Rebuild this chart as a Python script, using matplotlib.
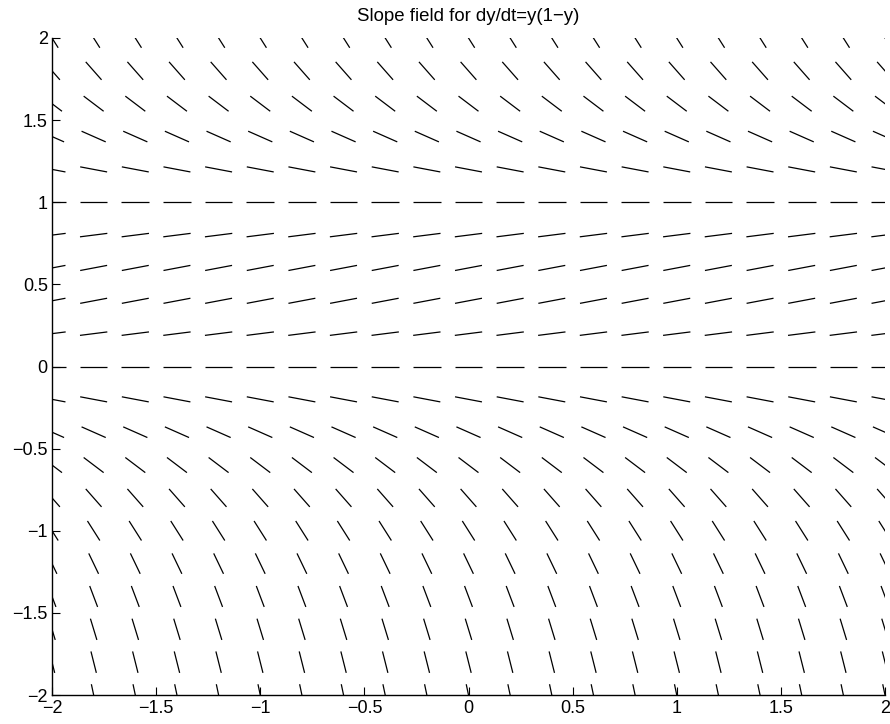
import numpy as np
import matplotlib
matplotlib.use("Agg")
import matplotlib.pyplot as plt
from matplotlib.collections import LineCollection

# Grid of sample points for the slope field
t_values = np.round(np.arange(-2.0, 2.0001, 0.2), 10)
y_values = np.round(np.arange(-2.0, 2.0001, 0.2), 10)
x_ticks = [-2, -1.5, -1, -0.5, 0, 0.5, 1, 1.5, 2]
y_ticks = [-2, -1.5, -1, -0.5, 0, 0.5, 1, 1.5, 2]
x_tick_labels = ["\u22122", "\u22121.5", "\u22121", "\u22120.5", "0", "0.5", "1", "1.5", "2"]
y_tick_labels = ["\u22122", "\u22121.5", "\u22121", "\u22120.5", "0", "0.5", "1", "1.5", "2"]


def rate(t, y):
    """Right-hand side of dy/dt = y(1 - y)."""
    return y * (1 - y)


seg_len = 0.133  # segment length in data units

T, Y = np.meshgrid(t_values, y_values)
S = rate(T, Y)
L = np.sqrt(1 + S ** 2)
dx = 0.5 * seg_len / L
dy = 0.5 * seg_len * S / L

segments = np.stack(
    [np.stack([T - dx, Y - dy], axis=-1), np.stack([T + dx, Y + dy], axis=-1)],
    axis=-2,
).reshape(-1, 2, 2)

plt.rcParams["font.family"] = ["Liberation Sans", "DejaVu Sans"]

fig = plt.figure(figsize=(8.9, 7.24), dpi=100)
ax = fig.add_axes([52 / 890, 29 / 724, (885 - 52) / 890, (695 - 38) / 724])

lc = LineCollection(segments, colors="black", linewidths=0.9)
ax.add_collection(lc)

ax.set_xlim(-2, 2)
ax.set_ylim(-2, 2)
ax.set_xticks(x_ticks)
ax.set_xticklabels(x_tick_labels)
ax.set_yticks(y_ticks)
ax.set_yticklabels(y_tick_labels)
ax.tick_params(direction="in", length=6, width=0.8, labelsize=13, pad=3)
ax.tick_params(axis="x", pad=3.5)

ax.spines["top"].set_visible(False)
ax.spines["right"].set_visible(False)
ax.spines["left"].set_linewidth(1.0)
ax.spines["bottom"].set_linewidth(1.0)

ax.set_title("Slope field for dy/dt=y(1\u2212y)", fontsize=13.4, pad=12)

fig.savefig("out.png", dpi=100)
